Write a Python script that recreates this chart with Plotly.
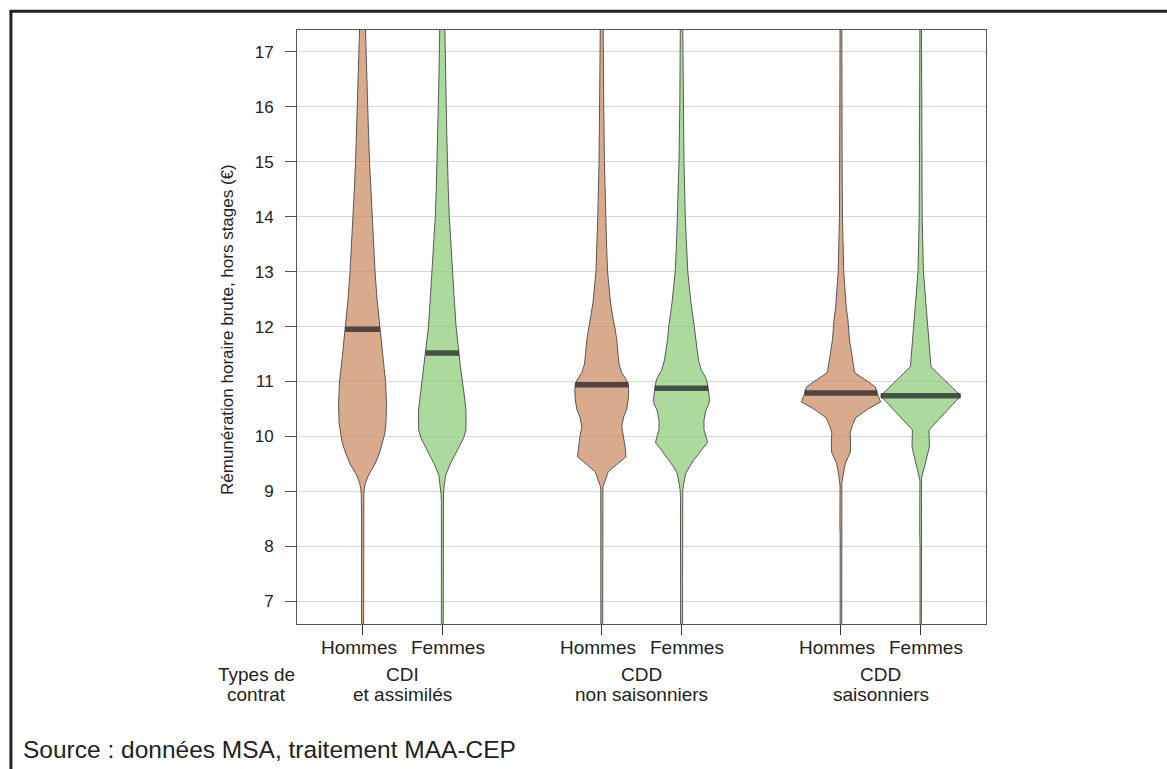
import numpy as np
import plotly.graph_objects as go

# ---------------- data ----------------
categories = ["Hommes", "Femmes"]
contract_lines_1 = ["CDI", "CDD", "CDD"]
contract_lines_2 = ["et assimilés", "non saisonniers", "saisonniers"]
y_ticks = [7, 8, 9, 10, 11, 12, 13, 14, 15, 16, 17]

# violin profiles: salary value (€) and relative density (half width)
cdi_h_y = [6.0, 7.2, 7.35, 7.5, 8.6, 8.95, 9.05, 9.15, 9.3, 9.5, 9.7, 9.9, 10.03, 10.25, 10.6, 11.0,
           11.5, 12.0, 12.5, 13.0, 13.5, 14.0, 14.5, 15.0, 15.5, 16.0, 16.5, 17.0, 17.5, 18.0]
cdi_h_d = [1.0, 1.0, 1.4, 1.0, 1.0, 1.3, 1.8, 2.8, 6.0, 12.5, 17.0, 20.5, 22.0, 23.5, 24.0, 23.0,
           20.0, 17.0, 14.5, 12.5, 11.0, 9.5, 8.2, 7.0, 6.0, 5.0, 4.2, 3.5, 2.8, 2.4]

cdi_f_y = [6.0, 8.8, 8.95, 9.1, 9.3, 9.5, 9.7, 9.85, 9.97, 10.12, 10.48, 10.75, 11.0, 11.25, 11.52,
           11.8, 12.0, 12.5, 13.0, 13.5, 14.0, 14.5, 15.0, 15.5, 16.0, 16.5, 17.0, 17.5, 18.0]
cdi_f_d = [0.9, 0.9, 1.2, 1.8, 3.5, 8.0, 14.0, 18.0, 21.3, 23.7, 23.7, 22.0, 20.0, 18.3, 16.7,
           15.0, 13.8, 12.0, 10.3, 8.5, 7.0, 6.0, 5.0, 4.5, 4.0, 3.4, 2.8, 2.3, 2.0]

cddns_h_y = [6.0, 8.4, 8.6, 9.0, 9.09, 9.2, 9.36, 9.5, 9.63, 9.8, 9.98, 10.18, 10.36, 10.5, 10.67,
             10.85, 10.95, 11.05, 11.16, 11.3, 11.45, 11.76, 12.0, 12.12, 12.43, 13.0, 13.5, 14.0,
             15.0, 16.0, 17.0, 18.0]
cddns_h_d = [0.9, 0.9, 1.0, 1.0, 1.2, 3.5, 6.5, 15.5, 24.3, 23.5, 22.0, 20.0, 22.0, 25.0, 26.5,
             27.0, 26.5, 24.0, 20.0, 17.5, 16.5, 15.0, 13.0, 11.5, 8.8, 5.8, 4.8, 4.0,
             2.7, 2.0, 1.5, 1.2]

cddns_f_y = [6.0, 8.86, 9.03, 9.15, 9.33, 9.45, 9.58, 9.75, 9.89, 9.97, 10.12, 10.3, 10.48, 10.6,
             10.67, 10.8, 10.88, 11.0, 11.08, 11.2, 11.39, 11.76, 12.0, 12.43, 13.0, 13.5, 14.0,
             15.0, 16.0, 17.0, 18.0]
cddns_f_d = [0.9, 1.0, 1.3, 2.3, 4.3, 8.0, 12.7, 20.0, 26.0, 25.0, 22.5, 22.5, 24.5, 27.5,
             28.0, 27.3, 26.7, 25.5, 24.0, 20.0, 17.0, 14.0, 12.8, 9.5, 6.3, 5.0, 3.8,
             2.5, 1.7, 1.2, 1.0]

cdds_h_y = [6.0, 8.2, 8.4, 9.1, 9.16, 9.3, 9.52, 9.62, 9.72, 9.9, 10.07, 10.2, 10.34, 10.5, 10.63,
            10.75, 10.9, 11.0, 11.16, 11.3, 11.52, 11.76, 12.12, 12.35, 13.0, 14.0, 15.0, 16.0,
            17.0, 18.0]
cdds_h_d = [0.8, 0.8, 1.1, 0.9, 0.9, 2.2, 4.5, 7.0, 9.5, 9.6, 9.2, 11.5, 14.7, 27.0, 39.7,
            37.0, 34.5, 27.0, 13.7, 12.5, 10.5, 8.5, 7.0, 5.3, 2.8, 1.5, 1.2, 1.0,
            0.9, 0.8]

cdds_f_y = [6.0, 8.0, 8.3, 9.2, 9.25, 9.5, 9.81, 10.12, 10.74, 11.27, 11.82, 12.12, 12.35, 13.0,
            14.0, 15.0, 16.0, 17.0, 18.0]
cdds_f_d = [0.7, 0.7, 1.0, 0.8, 0.9, 4.5, 8.7, 8.3, 40.0, 10.3, 8.0, 6.5, 5.3, 2.7,
            1.5, 1.1, 0.9, 0.8, 0.7]

medians = [11.95, 11.52, 10.94, 10.88, 10.79, 10.74]

profiles = [(cdi_h_y, cdi_h_d), (cdi_f_y, cdi_f_d),
            (cddns_h_y, cddns_h_d), (cddns_f_y, cddns_f_d),
            (cdds_h_y, cdds_h_d), (cdds_f_y, cdds_f_d)]

# ---------------- styling ----------------
FONT = "Liberation Sans, Arial, sans-serif"
TXT = "#222222"
fills = ["rgba(204,142,102,0.75)", "rgba(144,206,123,0.75)"]
width_scale = 1 / 79.77  # density units -> x units
label_shift = [-4, 5.5]

positions = []
for g in range(3):
    for s in range(2):
        positions.append(3 * g + s + 1)

fig = go.Figure()

for i, ((ys, ds), pos) in enumerate(zip(profiles, positions)):
    ys = np.array(ys, dtype=float)
    ds = np.array(ds, dtype=float) * width_scale
    xs = np.concatenate([pos + ds, (pos - ds)[::-1]])
    yy = np.concatenate([ys, ys[::-1]])
    fig.add_trace(go.Scatter(
        x=xs, y=yy, mode="lines", fill="toself",
        fillcolor=fills[i % 2],
        line=dict(color="rgba(65,65,65,0.85)", width=1),
        hoverinfo="skip", showlegend=False))

for i, ((ys, ds), pos) in enumerate(zip(profiles, positions)):
    m = medians[i]
    hw = float(np.interp(m, ys, ds)) * width_scale
    fig.add_trace(go.Scatter(
        x=[pos - hw, pos + hw], y=[m, m], mode="lines",
        line=dict(color="rgba(35,35,35,0.75)", width=5.5),
        hoverinfo="skip", showlegend=False))

lab_font = dict(size=19, color=TXT, family=FONT)
annotations = []
for i, pos in enumerate(positions):
    annotations.append(dict(x=pos, y=0, xref="x", yref="paper", xanchor="center",
                            yanchor="middle", xshift=label_shift[i % 2], yshift=-23,
                            text=categories[i % 2], showarrow=False, font=lab_font))
for g in range(3):
    xc = 3 * g + 1.5
    annotations.append(dict(x=xc, y=0, xref="x", yref="paper", xanchor="center",
                            yanchor="middle", yshift=-50,
                            text=contract_lines_1[g], showarrow=False, font=lab_font))
    annotations.append(dict(x=xc, y=0, xref="x", yref="paper", xanchor="center",
                            yanchor="middle", yshift=-70,
                            text=contract_lines_2[g], showarrow=False, font=lab_font))
annotations.append(dict(x=0, y=0, xref="paper", yref="paper", xanchor="center",
                        yanchor="middle", xshift=-41, yshift=-50,
                        text="Types de", showarrow=False, font=lab_font))
annotations.append(dict(x=0, y=0, xref="paper", yref="paper", xanchor="center",
                        yanchor="middle", xshift=-41, yshift=-70,
                        text="contrat", showarrow=False, font=lab_font))
annotations.append(dict(x=0, y=0.5, xref="paper", yref="paper", xanchor="center",
                        yanchor="middle", xshift=-70, yshift=-3,
                        text="Rémunération horaire brute, hors stages (€)", textangle=-90,
                        showarrow=False, font=dict(size=17, color=TXT, family=FONT)))
annotations.append(dict(x=0, y=0, xref="paper", yref="paper", xanchor="left",
                        yanchor="middle", xshift=-276, yshift=-125,
                        text="Source : données MSA, traitement MAA-CEP",
                        showarrow=False, font=dict(size=24.5, color=TXT, family=FONT)))

# outer frame (top and left edges)
shapes = [
    dict(type="line", xref="paper", yref="paper", x0=-0.4152, x1=-0.4152, y0=-0.26, y1=1.0315,
         line=dict(color="#222222", width=3)),
    dict(type="line", xref="paper", yref="paper", x0=-0.4174, x1=1.27, y0=1.0315, y1=1.0315,
         line=dict(color="#222222", width=3)),
]

fig.update_layout(
    width=1167, height=769,
    margin=dict(l=297, r=181, t=30, b=145, autoexpand=False),
    paper_bgcolor="white", plot_bgcolor="white",
    font=dict(family=FONT, color=TXT),
    annotations=annotations, shapes=shapes,
    showlegend=False,
)
fig.update_xaxes(
    range=[0.178, 8.819], tickmode="array", tickvals=positions,
    showticklabels=False, ticks="outside", ticklen=10, tickcolor="#333",
    showline=True, linecolor="#555", linewidth=1, mirror=True,
    showgrid=False, zeroline=False,
)
fig.update_yaxes(
    range=[6.59, 17.394], tickmode="array", tickvals=y_ticks,
    ticks="outside", ticklen=11, tickcolor="#555", ticklabelstandoff=8,
    showline=True, linecolor="#555", linewidth=1, mirror=True,
    showgrid=True, gridcolor="#d6d6d6", gridwidth=1, zeroline=False,
    tickfont=dict(size=17, color=TXT, family=FONT),
)

fig.write_html("out.html", config={"displayModeBar": False},
               post_script="document.body.style.margin='0';")
